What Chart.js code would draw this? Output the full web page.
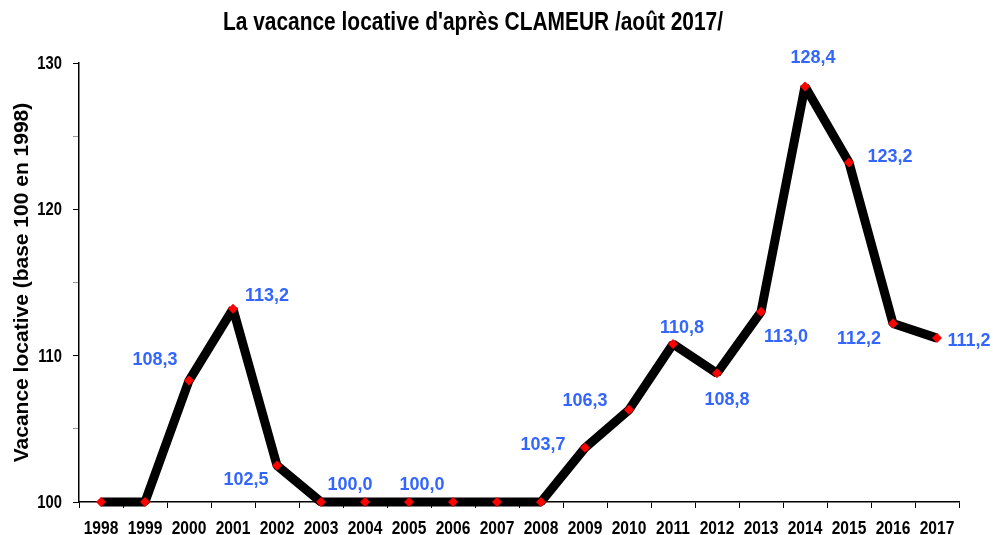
<!DOCTYPE html>
<html>
<head>
<meta charset="utf-8">
<script src="https://cdn.jsdelivr.net/npm/chart.js@4"></script>
<style>
  html, body { margin:0; padding:0; background:#fff; }
  #wrap { width:993px; height:535px; }
</style>
</head>
<body>
<div id="wrap"><canvas id="chart" width="993" height="535"></canvas></div>
<script>
// ===== DATA =====
const titleText = "La vacance locative d'après CLAMEUR /août 2017/";
const years = ['1998','1999','2000','2001','2002','2003','2004','2005','2006','2007',
               '2008','2009','2010','2011','2012','2013','2014','2015','2016','2017'];
const vacance = [100, 100, 108.3, 113.2, 102.5, 100, 100, 100, 100, 100,
                 100, 103.7, 106.3, 110.8, 108.8, 113.0, 128.4, 123.2, 112.2, 111.2];
const yTicks = [100, 110, 120, 130];

// which points carry a value label, and where it sits (px offset from the point)
const labelOffsets = {
  2: [-34, -21], 3: [34, -13], 4: [-31, 15], 5: [29, -17], 7: [13, -17],
  11: [-42, -3], 12: [-44, -9], 13: [9, -16], 14: [10, 27], 15: [25, 25],
  16: [8, -28], 17: [41, -5], 18: [-34, 16], 19: [32, 3]
};

const ARIAL = "'Liberation Sans', Arial, sans-serif";
const NARROW_X = 0.82; // Arial Narrow is roughly Arial squeezed to 82%

// text squeezed horizontally, to stand in for Arial Narrow
function narrowText(ctx, txt, x, y, align){
  ctx.save();
  ctx.translate(x, y);
  ctx.scale(NARROW_X, 1);
  ctx.textAlign = align;
  ctx.fillText(txt, 0, 0);
  ctx.restore();
}

// ===== PLUGIN: title, tick labels, value labels =====
const drawTexts = {
  id: 'drawTexts',
  afterDraw(chart){
    const ctx = chart.ctx;
    const xs = chart.scales.x, ys = chart.scales.y;
    ctx.save();
    ctx.fillStyle = '#000';

    // title
    ctx.font = 'bold 25.5px ' + ARIAL;
    ctx.textBaseline = 'middle';
    narrowText(ctx, titleText, 473, 23, 'center');

    // x tick labels
    ctx.font = 'bold 19px ' + ARIAL;
    ctx.textBaseline = 'alphabetic';
    xs.ticks.forEach((t, i)=>{
      narrowText(ctx, years[i], xs.getPixelForTick(i), 534, 'center');
    });

    // y tick labels
    ctx.font = 'bold 18px ' + ARIAL;
    ctx.textBaseline = 'middle';
    yTicks.forEach(v=>{
      narrowText(ctx, String(v), ys.left + ys.width - 17, ys.getPixelForValue(v) + 1, 'right');
    });

    // value labels
    const meta = chart.getDatasetMeta(0);
    ctx.font = 'bold 18px ' + ARIAL;
    ctx.fillStyle = '#3366ff';
    ctx.textAlign = 'center';
    ctx.textBaseline = 'middle';
    Object.keys(labelOffsets).forEach(k=>{
      const i = +k;
      const pt = meta.data[i];
      const off = labelOffsets[k];
      const txt = vacance[i].toFixed(1).replace('.', ',');
      ctx.fillText(txt, pt.x + off[0], pt.y + off[1]);
    });
    ctx.restore();
  }
};

// ===== CHART =====
const chart = new Chart(document.getElementById('chart'), {
  type: 'line',
  data: {
    labels: years,
    datasets: [{
      data: vacance,
      borderColor: '#000',
      borderWidth: 9,
      borderJoinStyle: 'bevel',
      tension: 0,
      pointStyle: 'rectRot',
      pointRadius: 5,
      pointBackgroundColor: '#ff0000',
      pointBorderWidth: 0,
      clip: false
    }]
  },
  options: {
    responsive: false,
    animation: false,
    layout: { padding: { left: 0, right: 34, top: 63, bottom: 0 } },
    plugins: {
      legend: { display: false },
      tooltip: { enabled: false },
      title: { display: false }
    },
    scales: {
      x: {
        offset: true,
        grid: { offset: true, drawOnChartArea: false, color: '#000', tickLength: 6 },
        border: { color: '#000', width: 1.5 },
        ticks: { color: 'rgba(0,0,0,0)', maxRotation: 0, autoSkip: false, font: { size: 12 } },
        afterFit(scale){ scale.height = 33; }
      },
      y: {
        min: yTicks[0],
        max: yTicks[yTicks.length - 1],
        grid: {
          drawOnChartArea: false, tickLength: 6,
          color: ctx => (ctx.tick && ctx.tick.value % 10 === 0) ? '#000' : '#999'
        },
        border: { color: '#000', width: 1.5 },
        ticks: {
          stepSize: 5,
          color: 'rgba(0,0,0,0)',
          font: { size: 12 },
          callback: v => yTicks.includes(v) ? v : ''
        },
        title: {
          display: true,
          text: 'Vacance locative (base 100 en 1998)',
          color: '#000',
          font: { family: ARIAL, size: 21, weight: 'bold' },
          padding: { top: 10, bottom: 0 }
        },
        afterFit(scale){ scale.width = 79; }
      }
    }
  },
  plugins: [drawTexts]
});
</script>
</body>
</html>
